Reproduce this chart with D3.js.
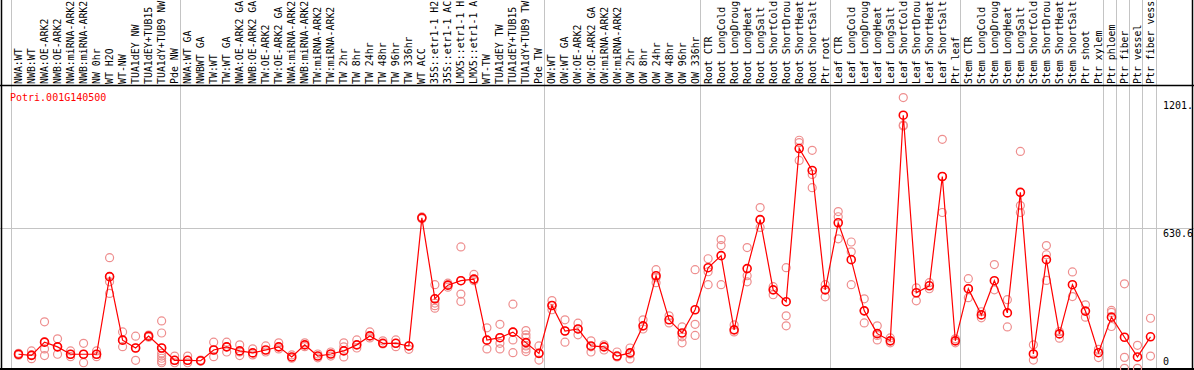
<!DOCTYPE html>
<html>
<head>
<meta charset="utf-8">
<script src="https://cdn.jsdelivr.net/npm/d3@7"></script>
<style>
  body { margin: 0; background: #fff; }
  svg { display: block; }
</style>
</head>
<body>
<div id="chart"></div>
<script>
var geneName = "Potri.001G140500";

// sample labels, as far as they are visible in the header
var labels = ["NWA:WT", "NWB:WT", "NWA:OE-ARK2", "NWB:OE-ARK2", "NWA:miRNA-ARK2", "NWB:miRNA-ARK2",
    "NW 0hr", "WT H2O", "WT-NW", "TUA1dEY NW", "TUA1dEY+TUB15", "TUA1dY+TUB9 NW", "Pde NW",
    "NWA:WT GA", "NWBWT GA", "TW:WT", "TW:WT GA", "NWA:OE-ARK2 GA", "NWB:OE-ARK2 GA", "TW:OE-ARK2",
    "TW:OE-ARK2 GA", "NWA:miRNA-ARK2", "NWB:miRNA-ARK2", "TW:miRNA-ARK2", "TW:miRNA-ARK2",
    "TW 2hr", "TW 8hr", "TW 24hr", "TW 48hr", "TW 96hr", "TW 336hr", "WT ACC",
    "35S::etr1-1 H2", "35S::etr1-1 AC", "LMX5::etr1-1 H", "LMX5::etr1-1 A",
    "WT-TW", "TUA1dEY TW", "TUA1dEY+TUB15", "TUA1dY+TUB9 TW", "Pde TW",
    "OW:WT", "OW:WT GA", "OW:OE-ARK2", "OW:OE-ARK2 GA", "OW:miRNA-ARK2", "OW:miRNA-ARK2",
    "OW 2hr", "OW 8hr", "OW 24hr", "OW 48hr", "OW 96hr", "OW 336hr",
    "Root CTR", "Root LongCold", "Root LongDroug", "Root LongHeat", "Root LongSalt",
    "Root ShortCold", "Root ShortDrou", "Root ShortHeat", "Root ShortSalt", "Ptr root",
    "Leaf CTR", "Leaf LongCold", "Leaf LongDroug", "Leaf LongHeat", "Leaf LongSalt",
    "Leaf ShortCold", "Leaf ShortDrou", "Leaf ShortHeat", "Leaf ShortSalt", "Ptr leaf",
    "Stem CTR", "Stem LongCold", "Stem LongDroug", "Stem LongHeat", "Stem LongSalt",
    "Stem ShortCold", "Stem ShortDrou", "Stem ShortHeat", "Stem ShortSalt", "Ptr shoot",
    "Ptr xylem", "Ptr phloem", "Ptr fiber", "Ptr vessel", "Ptr fiber vess"];

// mean expression per sample
var means = [66, 61, 120, 99, 66, 66, 66, 413, 129, 94,
    147, 94, 39, 39, 37, 85, 99, 81, 72, 85,
    99, 54, 108, 58, 67, 81, 108, 148, 115, 115,
    103, 676, 314, 375, 395, 402, 129, 140, 165, 118,
    70, 284, 170, 179, 103, 99, 58, 72, 193, 417,
    220, 161, 265, 453, 507, 175, 449, 668, 354, 301,
    986, 888, 354, 654, 489, 260, 158, 126, 1135, 341,
    372, 861, 126, 359, 242, 395, 251, 790, 67, 489,
    157, 377, 259, 73, 232, 142, 54, 144];

// single replicate values per sample
var replicates = [[62, 70], [81, 63, 46], [211, 120, 90, 60], [135, 99, 66], [81, 66, 55],
    [115, 66, 28], [81, 66, 55], [498, 413, 390, 338], [166, 129, 100], [147, 94, 39],
    [152, 147, 142], [215, 161, 94, 70, 58, 48, 36, 28], [58, 39, 28], [58, 39, 28], [40, 35],
    [120, 85, 55], [120, 99, 76], [108, 76, 60], [90, 63], [103, 76],
    [117, 90], [63, 48], [117, 100], [67, 50], [76, 58],
    [117, 99, 54], [130, 94], [166, 139], [126, 112], [130, 115, 100],
    [103, 88], [680, 672], [377, 314, 295, 283, 272], [384, 375, 366], [546, 395, 335, 302],
    [423, 402, 395], [184, 129, 90], [200, 140, 115, 90], [290, 165, 130, 73], [172, 153, 140, 118, 103, 90, 78],
    [103, 70, 40], [306, 284, 265], [220, 170, 120], [205, 179, 153], [126, 99, 76],
    [108, 85], [76, 54], [94, 67, 45], [220, 179], [444, 408, 386],
    [238, 206], [188, 144, 117], [444, 200, 150], [493, 435, 377], [579, 552, 377],
    [197, 166], [543, 417, 390], [722, 668, 633], [368, 332], [453, 238, 193],
    [1023, 1012, 933], [978, 870, 811], [377, 323], [704, 681, 582], [568, 524, 377],
    [314, 260, 206], [193, 150, 130], [139, 117], [1214, 1091, 1087], [363, 305],
    [386, 359], [1027, 861, 700], [135, 117], [404, 359, 319], [256, 229],
    [467, 354], [310, 188], [973, 731, 700], [108, 40], [552, 511, 396],
    [167, 138], [434, 324], [287, 232], [88, 51], [262, 253, 190],
    [381, 52, 3], [106, 3], [227, 58]];

// column index where a group separator is drawn
var groupBreaks = [0, 13, 41, 53, 63, 73, 84, 85, 86, 87, 88];

var yMax = 1261.2;
var tickValues = [1201, 630.6, 0];
var tickLabels = ["1201.", "630.6", "0"];
var gridValues = [630.6];

var width = 1194, height = 370;
var headerH = 85, plotBottom = 369;

var svg = d3.select("#chart")
    .append("svg")
    .attr("width", width)
    .attr("height", height);

var x = d3.scaleBand().domain(d3.range(labels.length)).range([10.5, 1155.5]);
var y = d3.scaleLinear().domain([0, yMax]).range([plotBottom, headerH + 2]);
var cx = function (i) { return x(i) + x.bandwidth() / 2 + 1.5; };

var mono = "'DejaVu Sans Mono', 'Liberation Mono', monospace";

// group separators
svg.selectAll(".vgrid")
    .data(groupBreaks)
    .enter()
    .append("line")
    .attr("x1", function (d) { return Math.round(x(0) + d * x.step()) + 0.5; })
    .attr("x2", function (d) { return Math.round(x(0) + d * x.step()) + 0.5; })
    .attr("y1", 0)
    .attr("y2", plotBottom)
    .attr("stroke", "#c4c4c4")
    .attr("stroke-width", 1);

// horizontal grid
svg.selectAll(".hgrid")
    .data(gridValues)
    .enter()
    .append("line")
    .attr("x1", 0)
    .attr("x2", width)
    .attr("y1", function (d) { return Math.round(y(d)) + 0.5; })
    .attr("y2", function (d) { return Math.round(y(d)) + 0.5; })
    .attr("stroke", "#c4c4c4")
    .attr("stroke-width", 1);

// frame
svg.append("line").attr("x1", 0).attr("x2", width).attr("y1", headerH + 0.5).attr("y2", headerH + 0.5)
    .attr("stroke", "black").attr("stroke-width", 1.5);
svg.append("line").attr("x1", 0).attr("x2", width).attr("y1", plotBottom).attr("y2", plotBottom)
    .attr("stroke", "black").attr("stroke-width", 2);
svg.append("line").attr("x1", 1.5).attr("x2", 1.5).attr("y1", 0).attr("y2", height)
    .attr("stroke", "black").attr("stroke-width", 1.5);
svg.append("line").attr("x1", 1192.5).attr("x2", 1192.5).attr("y1", 0).attr("y2", height)
    .attr("stroke", "black").attr("stroke-width", 1.5);

// sample labels, rotated
svg.selectAll(".lab")
    .data(labels)
    .enter()
    .append("text")
    .attr("transform", function (d, i) { return "translate(" + (cx(i) + 3.5) + "," + (headerH - 1) + ") rotate(-90)"; })
    .attr("font-family", mono)
    .attr("font-size", "9.9px")
    .attr("fill", "black")
    .text(function (d) { return d; });

// value labels on the right
svg.selectAll(".tick")
    .data(tickValues)
    .enter()
    .append("text")
    .attr("x", 1163)
    .attr("y", function (d, i) { return d == 0 ? plotBottom - 4 : y(d) + 9; })
    .attr("font-family", mono)
    .attr("font-size", "10px")
    .attr("fill", "black")
    .text(function (d, i) { return tickLabels[i]; });

// gene title
svg.append("text")
    .attr("x", 10)
    .attr("y", 101)
    .attr("font-family", mono)
    .attr("font-size", "10px")
    .attr("fill", "red")
    .text(geneName);

// replicate points
var reps = [];
replicates.forEach(function (r, i) { r.forEach(function (v) { reps.push({ i: i, v: v }); }); });

svg.selectAll(".rep")
    .data(reps)
    .enter()
    .append("circle")
    .attr("cx", function (d) { return cx(d.i); })
    .attr("cy", function (d) { return y(d.v); })
    .attr("r", 4)
    .attr("fill", "none")
    .attr("stroke", "#ee8e8e")
    .attr("stroke-width", 1.2);

// mean line
var line = d3.line()
    .x(function (d, i) { return cx(i); })
    .y(function (d) { return y(d); });

svg.append("path")
    .datum(means)
    .attr("d", line)
    .attr("fill", "none")
    .attr("stroke", "red")
    .attr("stroke-width", 1.2);

svg.selectAll(".mean")
    .data(means)
    .enter()
    .append("circle")
    .attr("cx", function (d, i) { return cx(i); })
    .attr("cy", function (d) { return y(d); })
    .attr("r", 4)
    .attr("fill", "none")
    .attr("stroke", "red")
    .attr("stroke-width", 1.6);
</script>
</body>
</html>
